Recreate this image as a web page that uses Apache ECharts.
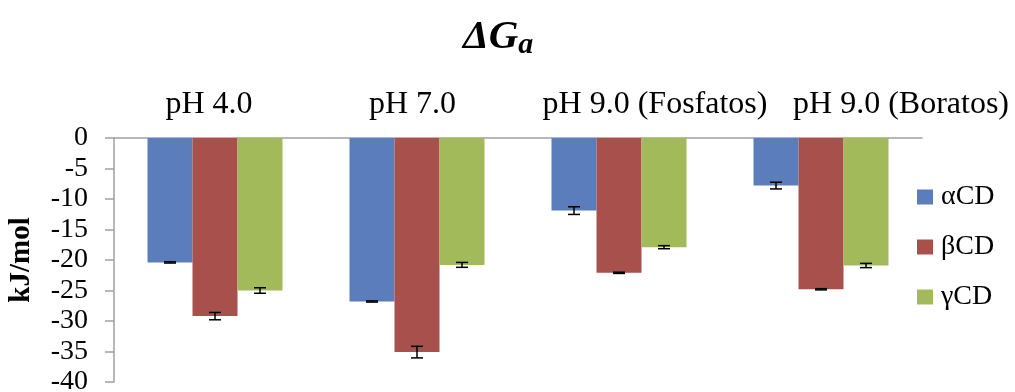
<!DOCTYPE html>
<html>
<head>
  <meta charset="utf-8">
  <title>ΔGa</title>
  <style>
    html, body {
      margin: 0;
      padding: 0;
      background: #fff;
    }

    #chart {
      width: 1015px;
      height: 392px;
    }
  </style>
</head>
<body>
  <div id="chart"></div>
  <script src="https://cdn.jsdelivr.net/npm/echarts@6/dist/echarts.min.js"></script>
  <script>
    // datos (kJ/mol)
    var categories = ['pH 4.0', 'pH 7.0', 'pH 9.0 (Fosfatos)', 'pH 9.0 (Boratos)'];
    var seriesNames = ['αCD', 'βCD', 'γCD'];
    var alphaCD = [-20.4, -26.8, -11.9, -7.8];
    var betaCD = [-29.2, -35.1, -22.1, -24.8];
    var gammaCD = [-25.0, -20.8, -17.9, -20.9];
    var alphaErr = [0.1, 0.1, 0.63, 0.55];
    var betaErr = [0.6, 0.95, 0.1, 0.1];
    var gammaErr = [0.45, 0.4, 0.25, 0.35];
    var yTicks = [0, -5, -10, -15, -20, -25, -30, -35, -40];

    var colors = ['#5b7dbb', '#a8504c', '#a3ba5b'];
    var font = '"Liberation Serif", "Times New Roman", serif';
    var barW = 45;

    var chart = echarts.init(document.getElementById('chart'));

    function errSeries(vals, errs, idx) {
      var data = vals.map(function (v, i) {
        return [i, v, errs[i]];
      });
      return {
        type: 'custom',
        name: 'err' + idx,
        silent: true,
        z: 5,
        encode: { x: 0, y: 1 },
        data: data,
        renderItem: function (params, api) {
          var ci = api.value(0);
          var v = api.value(1);
          var e = api.value(2);
          var off = (idx - 1) * barW;
          var hi = api.coord([ci, v + e]);
          var lo = api.coord([ci, v - e]);
          var x = hi[0] + off;
          var cap = 6;
          var st = { stroke: '#000', lineWidth: 1.5 };
          return {
            type: 'group',
            children: [
              { type: 'line', shape: { x1: x, y1: hi[1], x2: x, y2: lo[1] }, style: st },
              { type: 'line', shape: { x1: x - cap, y1: hi[1], x2: x + cap, y2: hi[1] }, style: st },
              { type: 'line', shape: { x1: x - cap, y1: lo[1], x2: x + cap, y2: lo[1] }, style: st }
            ]
          };
        }
      };
    }

    // desplazamiento de las etiquetas como en el original
    var labelPad = [
      [0, 12, 0, 0],
      [0, 9, 0, 0],
      [0, 0, 0, 72],
      [0, 0, 0, 160]
    ];
    var rich = {};
    labelPad.forEach(function (p, i) {
      rich['c' + i] = {
        fontFamily: font,
        fontSize: 32,
        color: '#000',
        padding: p
      };
    });

    var option = {
      animation: false,
      color: colors,
      title: {
        text: '{d|ΔG}{s|a}',
        left: 458,
        top: 9,
        textStyle: {
          rich: {
            d: {
              fontFamily: font,
              fontSize: 41,
              fontWeight: 'bold',
              fontStyle: 'italic',
              color: '#000'
            },
            s: {
              fontFamily: font,
              fontSize: 30,
              fontWeight: 'bold',
              fontStyle: 'italic',
              color: '#000',
              padding: [16, 0, 0, 0]
            }
          }
        }
      },
      legend: {
        orient: 'vertical',
        left: 912,
        top: 177,
        itemWidth: 16,
        itemHeight: 15,
        itemGap: 20,
        icon: 'rect',
        data: seriesNames,
        textStyle: {
          fontFamily: font,
          fontSize: 28,
          lineHeight: 30,
          color: '#000',
          padding: [0, 0, 0, 3]
        }
      },
      grid: {
        left: 114,
        right: 93,
        top: 138,
        bottom: 10,
        containLabel: false,
        outerBoundsMode: 'none'
      },
      xAxis: {
        type: 'category',
        position: 'top',
        data: categories,
        axisLine: { lineStyle: { color: '#a0a0a0', width: 1.5 } },
        axisTick: { show: false },
        axisLabel: {
          interval: 0,
          margin: 17,
          formatter: function (val, i) {
            return '{c' + i + '|' + val + '}';
          },
          rich: rich
        }
      },
      yAxis: {
        type: 'value',
        min: -40,
        max: 0,
        interval: 5,
        name: 'kJ/mol',
        nameLocation: 'middle',
        nameGap: 78,
        nameTextStyle: {
          fontFamily: font,
          fontSize: 29,
          fontWeight: 'bold',
          color: '#000'
        },
        splitLine: { show: false },
        axisLine: { show: true, lineStyle: { color: '#a0a0a0', width: 1.5 } },
        axisTick: { show: true, length: 9, lineStyle: { color: '#a0a0a0', width: 1.5 } },
        axisLabel: {
          margin: 26,
          fontFamily: font,
          fontSize: 28,
          color: '#000',
          formatter: function (v) {
            return yTicks.indexOf(v) >= 0 ? String(v) : '';
          }
        }
      },
      series: [
        { name: seriesNames[0], type: 'bar', data: alphaCD, barWidth: barW, barGap: '0%' },
        { name: seriesNames[1], type: 'bar', data: betaCD, barWidth: barW, barGap: '0%' },
        { name: seriesNames[2], type: 'bar', data: gammaCD, barWidth: barW, barGap: '0%' },
        errSeries(alphaCD, alphaErr, 0),
        errSeries(betaCD, betaErr, 1),
        errSeries(gammaCD, gammaErr, 2)
      ]
    };

    chart.setOption(option);
  </script>
</body>
</html>
